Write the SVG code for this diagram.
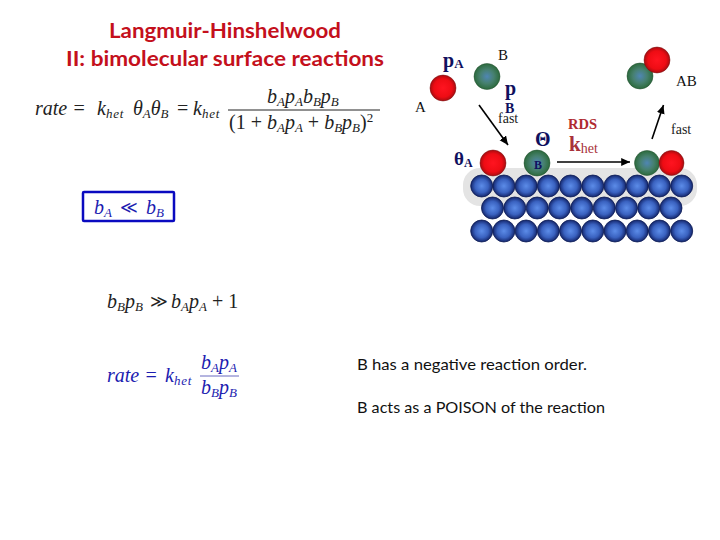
<svg xmlns="http://www.w3.org/2000/svg" width="720" height="540" viewBox="0 0 720 540">
<style>
.title{font:bold 20px Lato,"Open Sans",sans-serif;fill:#c4101c;text-anchor:middle}
.m{font:italic 20px "Liberation Serif",serif;fill:#222}
.mb{font:italic 20px "Liberation Serif",serif;fill:#1c1cb0}
.s{font-size:13px}
.h{font-size:13px;letter-spacing:.8px}
.lbl{font:15px "Liberation Serif",serif;fill:#111}
.fast{font:14px "Liberation Serif",serif;fill:#222}
.sym{font:bold 20px "Liberation Serif",serif;fill:#10105e}
.rds{font:bold 14.500px "Liberation Serif",serif;fill:#b02a30}
.k{font:bold 21px "Liberation Serif",serif;fill:#a8323a}
.body{font:16px Lato,"Open Sans",sans-serif;fill:#111}
.a{fill:url(#red);stroke:#7a1010;stroke-width:.5}
.b{fill:url(#green);stroke:#1d4a2c;stroke-width:.5}
.c{fill:url(#blue);stroke:#0c1c55;stroke-width:.8}
.line{stroke:#000;stroke-width:1.600;fill:none;marker-end:url(#arrow)}
</style>
<defs>
<radialGradient id="red"><stop offset="0" stop-color="#ff1420"/><stop offset=".7" stop-color="#ee0c14"/><stop offset="1" stop-color="#a80c10"/></radialGradient>
<radialGradient id="green"><stop offset="0" stop-color="#4f86b4"/><stop offset=".55" stop-color="#46806e"/><stop offset="1" stop-color="#2c6a3c"/></radialGradient>
<radialGradient id="blue"><stop offset="0" stop-color="#5c8ce8"/><stop offset=".6" stop-color="#3a62c0"/><stop offset="1" stop-color="#14266c"/></radialGradient>
<marker id="arrow" markerWidth="6" markerHeight="6" refX="5.500" refY="2.500" orient="auto"><path d="M0 0L5.500 2.500L0 5z" fill="#000"/></marker>
</defs>

<g id="title">
<text class="title" x="225" y="38" textLength="232" lengthAdjust="spacingAndGlyphs">Langmuir-Hinshelwood</text>
<text class="title" x="225" y="66" textLength="318" lengthAdjust="spacingAndGlyphs">II: bimolecular surface reactions</text>
</g>

<g id="rate-equation">
<text class="m" x="35" y="115">rate =</text>
<text class="m" x="97" y="115">k<tspan class="h" dy="3">het</tspan></text>
<text class="m" x="133" y="115">θ<tspan class="s" dy="3">A</tspan><tspan dy="-3">θ</tspan><tspan class="s" dy="3">B</tspan></text>
<text class="m" x="177" y="115" style="font-style:normal">=</text>
<text class="m" x="193" y="115">k<tspan class="h" dy="3">het</tspan></text>
<path d="M228 110H380" stroke="#222" stroke-width="1"/>
<text class="m" x="267" y="103">b<tspan class="s" dy="3">A</tspan><tspan dy="-3">p</tspan><tspan class="s" dy="3">A</tspan><tspan dy="-3">b</tspan><tspan class="s" dy="3">B</tspan><tspan dy="-3">p</tspan><tspan class="s" dy="3">B</tspan></text>
<text class="m" x="229" y="129"><tspan style="font-style:normal">(1 + </tspan>b<tspan class="s" dy="3">A</tspan><tspan dy="-3">p</tspan><tspan class="s" dy="3">A</tspan><tspan dy="-3" style="font-style:normal"> + </tspan>b<tspan class="s" dy="3">B</tspan><tspan dy="-3">p</tspan><tspan class="s" dy="3">B</tspan><tspan dy="-3" style="font-style:normal">)</tspan><tspan class="s" dy="-7" style="font-style:normal">2</tspan></text>
</g>

<g id="condition-box">
<rect x="83" y="192" width="91" height="29" fill="#fff" stroke="#0a0ac0" stroke-width="2.500" rx="1"/>
<text class="mb" x="94" y="214">b<tspan class="s" dy="3">A</tspan></text>
<text class="mb" x="120" y="213" style="font-style:normal;font-size:17px">≪</text>
<text class="mb" x="146" y="214">b<tspan class="s" dy="3">B</tspan></text>
</g>

<g id="approximation">
<text class="m" x="107" y="308">b<tspan class="s" dy="3">B</tspan><tspan dy="-3">p</tspan><tspan class="s" dy="3">B</tspan></text>
<text class="m" x="150" y="307" style="font-style:normal;font-size:17px">≫</text>
<text class="m" x="171" y="308">b<tspan class="s" dy="3">A</tspan><tspan dy="-3">p</tspan><tspan class="s" dy="3">A</tspan><tspan dy="-3" style="font-style:normal"> + 1</tspan></text>
</g>

<g id="simplified-rate">
<text class="mb" x="107" y="382">rate =</text>
<text class="mb" x="165" y="382">k<tspan class="h" dy="3">het</tspan></text>
<path d="M200 376H239" stroke="#6a6ac0" stroke-width="1"/>
<text class="mb" x="201" y="369">b<tspan class="s" dy="3">A</tspan><tspan dy="-3">p</tspan><tspan class="s" dy="3">A</tspan></text>
<text class="mb" x="201" y="394">b<tspan class="s" dy="3">B</tspan><tspan dy="-3">p</tspan><tspan class="s" dy="3">B</tspan></text>
</g>

<g id="statements">
<text class="body" x="357" y="370" textLength="230" lengthAdjust="spacingAndGlyphs">B has a negative reaction order.</text>
<text class="body" x="357" y="413" textLength="248" lengthAdjust="spacingAndGlyphs">B acts as a POISON of the reaction</text>
</g>

<g id="surface">
<rect x="463" y="168" width="234" height="38" rx="17" fill="#e4e4e4"/>
<g id="row1">
<circle class="c" cx="481.7" cy="186" r="11"/><circle class="c" cx="503.9" cy="186" r="11"/><circle class="c" cx="526.1" cy="186" r="11"/><circle class="c" cx="548.3" cy="186" r="11"/><circle class="c" cx="570.5" cy="186" r="11"/><circle class="c" cx="592.8" cy="186" r="11"/><circle class="c" cx="615" cy="186" r="11"/><circle class="c" cx="637.2" cy="186" r="11"/><circle class="c" cx="659.4" cy="186" r="11"/><circle class="c" cx="681.7" cy="186" r="11"/>
</g>
<g id="row2">
<circle class="c" cx="492.5" cy="208" r="11"/><circle class="c" cx="514.8" cy="208" r="11"/><circle class="c" cx="537.2" cy="208" r="11"/><circle class="c" cx="559.5" cy="208" r="11"/><circle class="c" cx="581.8" cy="208" r="11"/><circle class="c" cx="604.2" cy="208" r="11"/><circle class="c" cx="626.5" cy="208" r="11"/><circle class="c" cx="648.8" cy="208" r="11"/><circle class="c" cx="671" cy="208" r="11"/>
</g>
<g id="row3">
<circle class="c" cx="481.7" cy="231" r="11"/><circle class="c" cx="503.9" cy="231" r="11"/><circle class="c" cx="526.1" cy="231" r="11"/><circle class="c" cx="548.3" cy="231" r="11"/><circle class="c" cx="570.5" cy="231" r="11"/><circle class="c" cx="592.8" cy="231" r="11"/><circle class="c" cx="615" cy="231" r="11"/><circle class="c" cx="637.2" cy="231" r="11"/><circle class="c" cx="659.4" cy="231" r="11"/><circle class="c" cx="681.7" cy="231" r="11"/>
</g>
</g>

<g id="gas-A"><circle class="a" cx="443" cy="88" r="13"/><text class="lbl" x="415" y="112">A</text></g>
<g id="gas-B"><circle class="b" cx="487" cy="76.500" r="13"/><text class="lbl" x="498" y="60">B</text></g>
<g id="pA"><text class="sym" x="443" y="67">p<tspan style="font-size:13px" dy="1">A</tspan></text></g>
<g id="pB"><text class="sym" x="505" y="95">p</text><text class="sym" x="505" y="113" style="font-size:14px">B</text></g>
<g id="product-AB"><circle class="b" cx="640" cy="76" r="13"/><circle class="a" cx="657" cy="60" r="13"/><text class="lbl" x="676" y="86">AB</text></g>
<g id="adsorbed-A"><circle class="a" cx="493" cy="163" r="13"/></g>
<g id="theta-A"><text class="sym" x="454" y="165" style="font-size:19px">θ<tspan style="font-size:12px" dy="2">A</tspan></text></g>
<g id="adsorbed-B"><circle class="b" cx="537" cy="163" r="13"/><text class="sym" x="534" y="169" style="font-size:12px">B</text></g>
<g id="theta-B"><text class="sym" x="535" y="146" style="font-size:20px">Θ</text></g>
<g id="adsorbed-AB"><circle class="b" cx="647" cy="163" r="12.500"/><circle class="a" cx="671.500" cy="163" r="12.500"/></g>

<g id="connectors">
<path class="line" d="M479 105L508 145"/>
<path class="line" d="M557 162H630"/>
<path class="line" d="M652 139L663.500 105"/>
</g>

<g id="labels">
<text class="fast" x="498" y="123">fast</text>
<text class="fast" x="671" y="134">fast</text>
<text class="rds" x="568" y="129">RDS</text>
<text class="k" x="569" y="151">k<tspan style="font-size:14px;font-weight:normal" dy="2">het</tspan></text>
</g>
</svg>
